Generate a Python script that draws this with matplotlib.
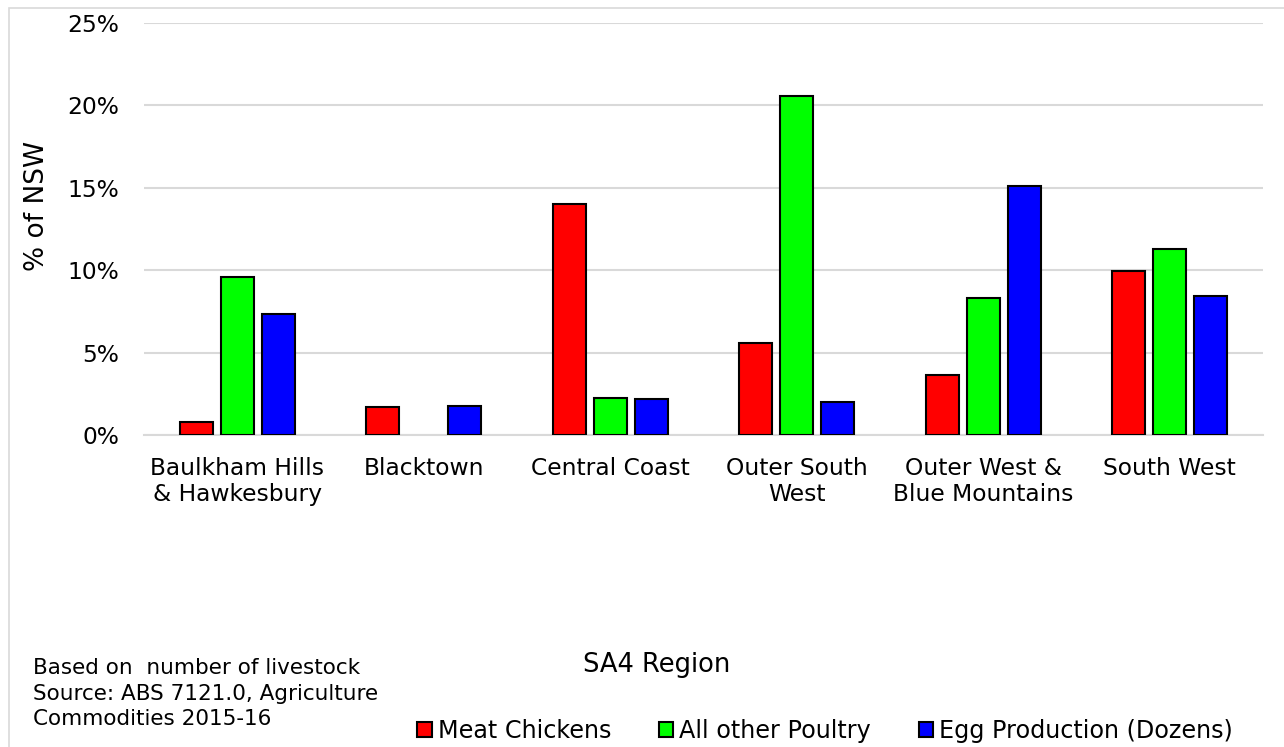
import numpy as np
import matplotlib.pyplot as plt
from matplotlib.patches import Rectangle

regions = ['Baulkham Hills\n& Hawkesbury', 'Blacktown', 'Central Coast',
           'Outer South\nWest', 'Outer West &\nBlue Mountains', 'South West']
meat_chickens = [0.81, 1.68, 14.0, 5.6, 3.64, 9.95]
other_poultry = [9.6, 0.0, 2.26, 20.6, 8.33, 11.28]
egg_production = [7.34, 1.78, 2.2, 2.02, 15.1, 8.41]

series = [('Meat Chickens', meat_chickens, '#ff0000'),
          ('All other Poultry', other_poultry, '#00ff00'),
          ('Egg Production (Dozens)', egg_production, '#0000ff')]

notes = ['Based on  number of livestock',
         'Source: ABS 7121.0, Agriculture',
         'Commodities 2015-16']

W, H = 1284, 747
fig = plt.figure(figsize=(W / 100, H / 100), dpi=100)
plt.rcParams['font.family'] = ['Verdana', 'DejaVu Sans']

ax = fig.add_axes([144 / W, 1 - 435 / H, (1263 - 144) / W, (435 - 23) / H])

x = np.arange(len(regions))
width = 0.177
step = 0.22
for i, (name, vals, col) in enumerate(series):
    edges = ['black' if v > 0 else 'none' for v in vals]
    ax.bar(x + (i - 1) * step, vals, width, color=col, edgecolor=edges,
           linewidth=1.5, label=name, zorder=3)

ax.set_xlim(-0.5, len(regions) - 0.5)
ax.set_ylim(0, 25)
ax.set_yticks(np.arange(0, 26, 5))
ax.set_yticklabels([f'{v}%' for v in range(0, 26, 5)])
ax.set_xticks(x)
ax.set_xticklabels(regions, linespacing=1.15)
ax.tick_params(axis='both', length=0, labelsize=16.8, colors='black')
ax.tick_params(axis='y', pad=18)
ax.tick_params(axis='x', pad=16)
ax.grid(axis='y', color='#d9d9d9', linewidth=1.5, zorder=0)
for s in ['top', 'right', 'left']:
    ax.spines[s].set_visible(False)
ax.spines['bottom'].set_color('#d9d9d9')
ax.spines['bottom'].set_linewidth(1.5)

fig.text(37 / W, 1 - 206 / H, '% of NSW', rotation=90, ha='center',
         va='center', fontsize=19)
fig.text(657 / W, 1 - 665 / H, 'SA4 Region', ha='center', va='center',
         fontsize=18.5)
for k, line in enumerate(notes):
    fig.text(33 / W, 1 - (674 + 25.5 * k) / H, line, ha='left',
             va='baseline', fontsize=15.5)

handles, labels = ax.get_legend_handles_labels()
fig.legend(handles, labels, loc='center', bbox_to_anchor=(825 / W, 1 - 731 / H),
           ncol=3, frameon=False, fontsize=17.2, handlelength=0.6,
           handleheight=0.6, handletextpad=0.25, columnspacing=2.0,
           borderaxespad=0, borderpad=0)

fig.patches.append(Rectangle((9 / W, -0.1), 1.2, 1 - 8 / H + 0.1,
                             transform=fig.transFigure, fill=False,
                             edgecolor='#d9d9d9', linewidth=1.2))

plt.savefig('out.png', dpi=100)
